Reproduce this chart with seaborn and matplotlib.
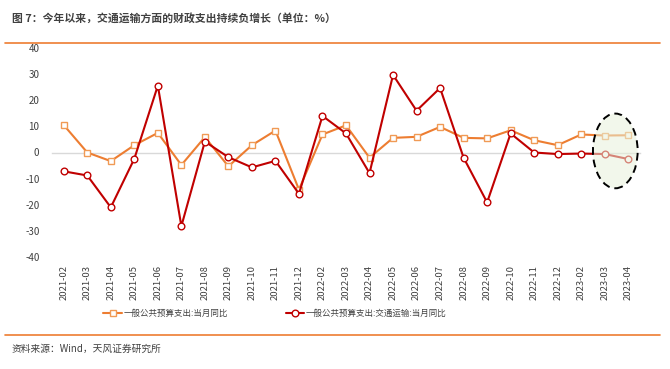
import matplotlib
matplotlib.use("Agg")
import matplotlib.pyplot as plt
import seaborn as sns
import pandas as pd
import numpy as np
from matplotlib.patches import Ellipse
from matplotlib.lines import Line2D

months = ["2021-02", "2021-03", "2021-04", "2021-05", "2021-06", "2021-07", "2021-08",
          "2021-09", "2021-10", "2021-11", "2021-12", "2022-02", "2022-03", "2022-04",
          "2022-05", "2022-06", "2022-07", "2022-08", "2022-09", "2022-10", "2022-11",
          "2022-12", "2023-02", "2023-03", "2023-04"]
general = [10.5, 0.0, -3.3, 2.8, 7.5, -4.8, 5.9, -5.3, 2.8, 8.4, -14.2, 6.9, 10.4,
           -2.0, 5.6, 6.0, 9.8, 5.6, 5.4, 8.5, 4.7, 2.8, 6.9, 6.5, 6.6]
transport = [-7.2, -8.8, -21.0, -2.4, 25.6, -28.2, 4.2, -1.8, -5.7, -3.2, -15.8, 14.0,
             7.3, -7.9, 29.7, 16.0, 24.7, -2.0, -19.1, 7.3, 0.0, -0.6, -0.4, -0.6, -2.5]
name_general = "一般公共预算支出:当月同比"
name_transport = "一般公共预算支出:交通运输:当月同比"
yticks = [40, 30, 20, 10, 0, -10, -20, -30, -40]
title = "图 7：今年以来，交通运输方面的财政支出持续负增长（单位：%）"
source = "资料来源：Wind，天风证券研究所"

sns.set_theme(style="white")
plt.rcParams['font.family'] = ['Noto Sans CJK SC', 'DejaVu Sans']
plt.rcParams['axes.unicode_minus'] = False

ORANGE = "#ED7D31"
ORANGE_M = "#F09A55"
RED = "#C00000"

fig = plt.figure(figsize=(6.7, 3.69), dpi=100)
ax = fig.add_axes([52/670, 1-257/369, (640-52)/670, (257-48)/369])

idx = np.arange(len(months))
df = pd.DataFrame({"idx": idx, "g": general, "t": transport})

sns.lineplot(data=df, x="idx", y="g", ax=ax, color=ORANGE, linewidth=1.5,
             marker="s", markersize=5, markerfacecolor="white",
             markeredgecolor=ORANGE_M, markeredgewidth=1.0, zorder=3)
sns.lineplot(data=df, x="idx", y="t", ax=ax, color=RED, linewidth=1.5,
             marker="o", markersize=4.8, markerfacecolor="white",
             markeredgecolor=RED, markeredgewidth=1.0, zorder=4)

ax.set_xlim(-0.5, len(months) - 0.5)
ax.set_ylim(-40, 40)
ax.set_xlabel("")
ax.set_ylabel("")

# y axis
ax.set_yticks(yticks)
ax.set_yticklabels([str(v) for v in yticks])
ax.tick_params(axis="y", length=0, pad=9, labelsize=7, labelcolor="#404040")

# zero axis line with boundary ticks
for s in ["top", "right", "left"]:
    ax.spines[s].set_visible(False)
ax.spines["bottom"].set_position(("data", 0))
ax.spines["bottom"].set_color("#D9D9D9")
ax.spines["bottom"].set_linewidth(1.0)
ax.spines["bottom"].set_zorder(1)
ax.set_xticks(np.arange(-0.5, len(months), 1.0))
ax.set_xticklabels([])
ax.tick_params(axis="x", direction="out", length=4, color="#D9D9D9", width=1.0)

sec = ax.secondary_xaxis("bottom")
sec.set_xticks(idx)
sec.set_xticklabels(months, rotation=90, fontsize=6.8, color="#404040")
sec.tick_params(length=0, pad=6)
sec.spines["bottom"].set_visible(False)

# highlight ellipse
ell = Ellipse((23.45, 0.6), width=1.9, height=28.6, facecolor=(0.91, 0.95, 0.86, 0.55),
              edgecolor="black", linestyle=(0, (4, 2.5)), linewidth=1.4, zorder=5)
ax.add_patch(ell)

# legend
handles = [Line2D([0], [0], color=ORANGE, lw=1.5, marker="s", markersize=5,
                  markerfacecolor="white", markeredgecolor=ORANGE_M),
           Line2D([0], [0], color=RED, lw=1.5, marker="o", markersize=4.8,
                  markerfacecolor="white", markeredgecolor=RED)]
fig.legend(handles, [name_general, name_transport], loc="center",
           bbox_to_anchor=(275/670, 1-313/369), ncol=2, frameon=False,
           fontsize=6.1, handlelength=2.2, handletextpad=0.2, columnspacing=6.8,
           labelcolor="#404040")

# title and decorations
fig.text(12/670, 1-18/369, title, fontsize=7.8, fontweight="bold", color="#404040",
         va="center", ha="left")
fig.add_artist(Line2D([5/670, 660/670], [1-43/369, 1-43/369], color=ORANGE, lw=1.2))
fig.add_artist(Line2D([5/670, 660/670], [1-335/369, 1-335/369], color=ORANGE, lw=1.2))
fig.text(12/670, 1-349/369, source, fontsize=7, color="#404040", va="center", ha="left")

fig.savefig("out.png", dpi=100)
